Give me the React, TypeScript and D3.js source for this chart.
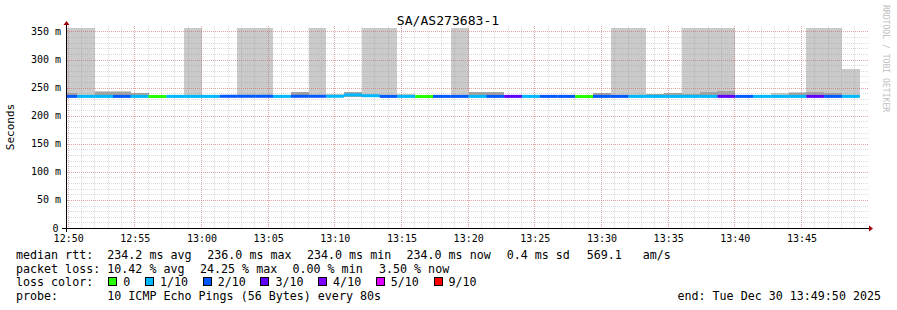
import React from "react";
import * as d3 from "d3";

// ---- data ----
const bucketStarts = [
  "12:49:24", "12:50:44", "12:52:04", "12:53:24", "12:54:44", "12:56:04", "12:57:24", "12:58:44",
  "13:00:04", "13:01:24", "13:02:44", "13:04:04", "13:05:24", "13:06:44", "13:08:04", "13:09:24",
  "13:10:44", "13:12:04", "13:13:24", "13:14:44", "13:16:04", "13:17:24", "13:18:44", "13:20:04",
  "13:21:24", "13:22:44", "13:24:04", "13:25:24", "13:26:44", "13:28:04", "13:29:24", "13:30:44",
  "13:32:04", "13:33:24", "13:34:44", "13:36:04", "13:37:24", "13:38:44", "13:40:04", "13:41:24",
  "13:42:44", "13:44:04", "13:45:24", "13:46:44", "13:48:04",
];
const bucketEnd = "13:49:24";

// median rtt (ms)
const medianMs = [
  234.4, 234.4, 234.4, 234.4, 234.4, 234.2, 234.4, 234.4, 234.4, 234.6, 234.6, 234.6, 234.4, 234.6, 234.6, 234.6,
  237.0, 235.6, 234.4, 234.4, 234.2, 234.4, 234.4, 234.4, 234.4, 234.4, 234.4, 234.4, 234.4, 234.2, 234.4, 234.4,
  234.4, 234.4, 234.4, 234.4, 234.4, 234.4, 234.4, 234.4, 234.4, 234.4, 234.4, 234.4, 234.4,
];
// loss in tenths
const lossTenths = [
  2, 1, 1, 2, 1, 0, 1, 1, 1, 2, 2, 2, 1, 2, 2, 1,
  1, 1, 2, 1, 0, 2, 2, 1, 2, 3, 1, 2, 2, 0, 2, 2,
  1, 1, 1, 1, 1, 3, 2, 1, 1, 1, 3, 2, 1,
];
// outer smoke top (ms)
const smokeOuterMs = [
  400, 400, 243.5, 243.5, 240.5, 235, 235, 400, 235, 235.5, 400, 400, 235, 242, 400, 239.5,
  242.5, 400, 400, 239.5, 235, 235, 400, 242, 242, 235, 235, 235, 235, 235, 240.5, 400,
  400, 238.5, 241, 400, 400, 400, 235, 235, 240, 241.5, 400, 400, 282.5,
];
// inner smoke top (ms)
const smokeInnerMs = [
  240, 236, 243, 243, 240, 235, 235, 236, 235, 235, 236, 236, 235, 241.6, 236, 236,
  242, 236, 236, 236, 235, 235, 236, 241.6, 241.6, 235, 235, 235, 235, 235, 240, 236,
  237.5, 238, 240.5, 238, 242.5, 244.5, 235, 235, 236, 241, 241.5, 240, 236,
];
const smokeBottomMs = 233.5;

const yTickValues = [0, 50, 100, 150, 200, 250, 300, 350];
const yTickLabels = ["0", "50 m", "100 m", "150 m", "200 m", "250 m", "300 m", "350 m"];

const lossLegendLabels = ["0", "1/10", "2/10", "3/10", "4/10", "5/10", "9/10"];
const lossLegendColors = ["#26ff00", "#00b8ff", "#0059ff", "#5e00ff", "#7e00ff", "#dd00ff", "#ff0000"];

const title = "SA/AS273683-1";
const rttRow = [
  "median rtt:", "234.2 ms avg", "236.0 ms max", "234.0 ms min", "234.0 ms now", "0.4 ms sd", "569.1", "am/s",
];
const lossRow = ["packet loss:", "10.42 % avg", "24.25 % max", "0.00 % min", "3.50 % now"];
const probeRow = ["probe:", "10 ICMP Echo Pings (56 Bytes) every 80s"];
const endText = "end: Tue Dec 30 13:49:50 2025";

// ---- layout ----
const W = 897;
const H = 310;
const P = { left: 67, right: 867, top: 28, bottom: 228 };
const FONT = "'DejaVu Sans Mono', monospace";

const t = (s: string) => {
  const [h, m, sec] = s.split(":").map(Number);
  return new Date(Date.UTC(2025, 11, 30, h, m, sec));
};

export default function App() {
  const x = d3.scaleUtc().domain([t("12:49:57"), t("13:49:57")]).range([P.left, P.right]);
  const y = d3.scaleLinear().domain([0, 356.2]).range([P.bottom, P.top]);

  const starts = bucketStarts.map(t);
  const ends = starts.slice(1).concat([t(bucketEnd)]);
  const cx = (d: Date) => Math.max(P.left, Math.min(P.right, x(d)));
  const cy = (v: number) => Math.max(P.top, y(v));

  const majorX = d3.utcMinute.every(5)!.range(t("12:50:00"), t("13:49:58"));
  const minorX = d3.utcMinute.every(1)!.range(t("12:50:00"), t("13:49:58"));
  const minorY = d3.range(0, 351, 10);
  const fmt = d3.utcFormat("%H:%M");

  const lossColor = (l: number) => (l >= 6 ? lossLegendColors[6] : lossLegendColors[l]);

  const rttX = [16, 107.3, 207.3, 307, 406.5, 506.7, 586.7, 642.7];
  const lossX = [16, 107.3, 200, 292.5, 379];
  const rowY = [258.8, 272.5, 286.3, 300];

  // legend swatch positions computed from text widths
  const CW = 7.0;
  const swatches: { bx: number; tx: number }[] = [];
  let bx = 108.3;
  lossLegendLabels.forEach((lab) => {
    const tx = bx + 15;
    swatches.push({ bx, tx });
    bx = tx + lab.length * CW + 14.7;
  });

  const minorStroke = "rgba(143,143,143,0.32)";
  const majorStroke = "rgba(230,80,80,0.38)";

  return (
    <svg width={W} height={H} style={{ position: "absolute", left: 0, top: 0, background: "#fff" }}>
      <rect x={0} y={0} width={W} height={H} fill="#ffffff" />
      {/* smoke */}
      <g shapeRendering="crispEdges">
        {starts.map((s, i) => (
          <rect key={"o" + i} x={cx(s)} width={cx(ends[i]) - cx(s)} y={cy(smokeOuterMs[i])}
            height={y(smokeBottomMs) - cy(smokeOuterMs[i])} fill="#cacaca" />
        ))}
        {starts.map((s, i) => (
          <rect key={"n" + i} x={cx(s)} width={cx(ends[i]) - cx(s)} y={cy(smokeInnerMs[i])}
            height={y(smokeBottomMs) - cy(smokeInnerMs[i])} fill="#a4a4a4" />
        ))}
      </g>
      {/* grid */}
      <g shapeRendering="crispEdges">
        {minorX.map((d, i) => (
          <line key={"mx" + i} x1={x(d) + 0.5} x2={x(d) + 0.5} y1={P.top - 2} y2={P.bottom}
            stroke={minorStroke} strokeDasharray="1 1" />
        ))}
        {minorY.map((v, i) => (
          <line key={"my" + i} x1={P.left} x2={P.right + 2} y1={y(v) + 0.5} y2={y(v) + 0.5}
            stroke={minorStroke} strokeDasharray="1 1" />
        ))}
        {majorX.map((d, i) => (
          <line key={"Mx" + i} x1={x(d) + 0.5} x2={x(d) + 0.5} y1={P.top - 2} y2={P.bottom}
            stroke={majorStroke} strokeDasharray="1 1" />
        ))}
        {yTickValues.map((v, i) => (
          <line key={"My" + i} x1={P.left} x2={P.right + 2} y1={y(v) + 0.5} y2={y(v) + 0.5}
            stroke={majorStroke} strokeDasharray="1 1" />
        ))}
      </g>
      {/* median line coloured by loss */}
      <g>
        {starts.map((s, i) => (
          <line key={"m" + i} x1={cx(s)} x2={cx(ends[i])} y1={y(medianMs[i])} y2={y(medianMs[i])}
            stroke={lossColor(lossTenths[i])} strokeWidth={3} />
        ))}
      </g>
      {/* axes */}
      <g shapeRendering="crispEdges">
        <line x1={P.left - 5} x2={P.right + 3} y1={P.bottom + 0.5} y2={P.bottom + 0.5} stroke="#000" />
        <line x1={P.left - 0.5} x2={P.left - 0.5} y1={P.bottom + 4} y2={P.top - 3} stroke="#000" />
      </g>
      <path d={`M${P.right + 2},${P.bottom - 2.5} L${P.right + 6},${P.bottom + 0.5} L${P.right + 2},${P.bottom + 3.5} Z`} fill="#a00000" />
      <path d={`M${P.left - 3.5},${P.top - 3} L${P.left - 0.5},${P.top - 7} L${P.left + 2.5},${P.top - 3} Z`} fill="#a00000" />
      {/* tick labels */}
      <g fontFamily={FONT} fontSize={10} fill="#000">
        {yTickValues.map((v, i) => (
          <text key={"yl" + i} x={i === 0 ? 58.5 : 61} y={y(v) + 3.5} textAnchor="end">{yTickLabels[i]}</text>
        ))}
        {majorX.map((d, i) => (
          <text key={"xl" + i} x={x(d) + 1} y={241.5} textAnchor="middle">{fmt(d)}</text>
        ))}
      </g>
      {/* title, axis label, watermark */}
      <text x={448} y={24.5} textAnchor="middle" fontFamily={FONT} fontSize={13.1} fill="#000">{title}</text>
      <text transform="translate(14,127) rotate(-90)" textAnchor="middle" fontFamily={FONT} fontSize={11} fill="#000">Seconds</text>
      <text transform="translate(883,5) rotate(90)" textAnchor="start" fontFamily={FONT} fontSize={8.1} fill="#c0c0c0">RRDTOOL / TOBI OETIKER</text>
      {/* legend */}
      <g fontFamily={FONT} fontSize={11.67} fill="#000" style={{ whiteSpace: "pre" }}>
        {rttRow.map((s, i) => (
          <text key={"r" + i} x={rttX[i]} y={rowY[0]}>{s}</text>
        ))}
        {lossRow.map((s, i) => (
          <text key={"l" + i} x={lossX[i]} y={rowY[1]}>{s}</text>
        ))}
        <text x={16} y={rowY[2]}>loss color:</text>
        {swatches.map((sw, i) => (
          <g key={"s" + i}>
            <rect x={sw.bx + 0.5} y={rowY[2] - 8.5} width={8} height={8} fill={lossLegendColors[i]} stroke="#000" strokeWidth={1} shapeRendering="crispEdges" />
            <text x={sw.tx} y={rowY[2]}>{lossLegendLabels[i]}</text>
          </g>
        ))}
        <text x={16} y={rowY[3]}>{probeRow[0]}</text>
        <text x={107.3} y={rowY[3]}>{probeRow[1]}</text>
        <text x={881} y={rowY[3]} textAnchor="end">{endText}</text>
      </g>
    </svg>
  );
}
